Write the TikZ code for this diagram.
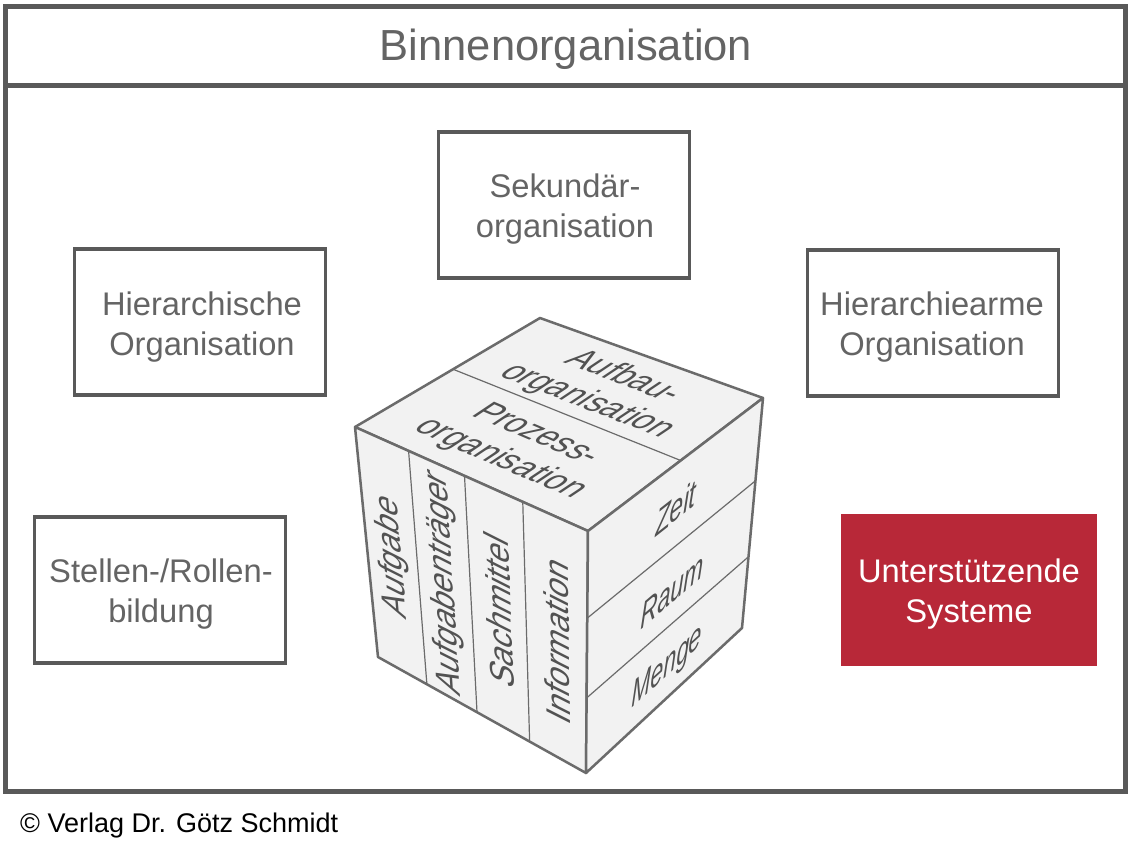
\documentclass[tikz,border=0pt]{standalone}
\usepackage{fontspec}
\setmainfont{Liberation Sans}
\usetikzlibrary{calc}
\definecolor{framec}{HTML}{595959}
\definecolor{txtc}{HTML}{646464}
\definecolor{cubefill}{HTML}{F2F2F2}
\definecolor{cubeline}{HTML}{6B6B6B}
\definecolor{cubetxt}{HTML}{525252}
\definecolor{redbox}{HTML}{B82838}
\begin{document}
\begin{tikzpicture}[x=1pt,y=-1pt,
  topicbox/.style={draw=framec, line width=3.5pt, minimum width=251pt, minimum height=146pt, inner sep=0pt},
  boxtext/.style={text=txtc, align=center, inner sep=0pt, font=\fontsize{32.7}{40}\selectfont},
  cubeedge/.style={draw=cubeline, line width=2.5pt, line join=round, fill=cubefill},
  cubediv/.style={draw=cubeline, line width=1.2pt},
  facetext/.style={transform shape, text=cubetxt, align=center, inner sep=0pt,
    font=\fontsize{32}{37}\selectfont},
  sidetext/.style={transform shape, text=cubetxt, inner sep=0pt,
    font=\fontsize{31}{34}\selectfont\itshape}]
\useasboundingbox (0,0) rectangle (1133,848);
\fill[white] (0,0) rectangle (1133,848);
% frame
\draw[framec, line width=5pt] (5.5,6.5) rectangle (1125.5,791.5);
\draw[framec, line width=5pt] (5.5,85.5) -- (1125.5,85.5);
\node[anchor=base, text=txtc, inner sep=0pt, font=\fontsize{43.5}{50}\selectfont] (title) at (566,61) {Binnenorganisation};
% boxes
\node[topicbox] (sek) at (564,205) {};
\node[boxtext] (sektxt) at (565,209) {Sekundär-\\organisation};
\node[topicbox] (hier) at (200,322) {};
\node[boxtext] (hiertxt) at (202,327) {Hierarchische\\Organisation};
\node[topicbox] (hierarm) at (933,323) {};
\node[boxtext] (hierarmtxt) at (932,327) {Hierarchiearme\\Organisation};
\node[topicbox] (stellen) at (160,590) {};
\node[boxtext] (stellentxt) at (161,594) {Stellen-/Rollen-\\bildung};
\node[fill=redbox, minimum width=256pt, minimum height=152pt, inner sep=0pt] (unter) at (969,590) {};
\node[boxtext, text=white] (untertxt) at (969,594) {Unterstützende\\Systeme};
% cube
\coordinate (TL) at (355,427);
\coordinate (B) at (540,318);
\coordinate (R) at (763,398);
\coordinate (F) at (588,531);
\coordinate (BL) at (378,657);
\coordinate (BF) at (586,773);
\coordinate (BR) at (742,628);
\path[cubeedge] (TL) -- (B) -- (R) -- (F) -- cycle;
\path[cubeedge] (TL) -- (F) -- (BF) -- (BL) -- cycle;
\path[cubeedge] (F) -- (R) -- (BR) -- (BF) -- cycle;
\draw[cubediv] ($(TL)!0.53!(B)$) -- ($(F)!0.53!(R)$);
\draw[cubediv] ($(TL)!0.23!(F)$) -- ($(BL)!0.235!(BF)$);
\draw[cubediv] ($(TL)!0.47!(F)$) -- ($(BL)!0.476!(BF)$);
\draw[cubediv] ($(TL)!0.72!(F)$) -- ($(BL)!0.729!(BF)$);
\draw[cubediv] ($(F)!0.36!(BF)$) -- ($(R)!0.36!(BR)$);
\draw[cubediv] ($(F)!0.69!(BF)$) -- ($(R)!0.69!(BR)$);
% top face texts
\begin{scope}[shift={(605,389)}, cm={0.934,-0.357,0.98,0.655,(0,0)}]
\node[facetext] (aufbau) at (0,0) {Aufbau-\\organisation};
\end{scope}
\begin{scope}[shift={(518,447)}, cm={0.92,-0.394,0.98,0.655,(0,0)}]
\node[facetext] (prozess) at (0,0) {Prozess-\\organisation};
\end{scope}
% left face texts
\begin{scope}[shift={(393,557)}, cm={-0.086,0.996,-1.07,0.54,(0,0)}]
\node[facetext] (aufgabe) at (0,0) {Aufgabe};
\end{scope}
\begin{scope}[shift={(444.5,583)}, cm={-0.064,0.998,-1.07,0.54,(0,0)}]
\node[facetext] (traeger) at (0,0) {Aufgabenträger};
\end{scope}
\begin{scope}[shift={(499,610)}, cm={-0.038,0.999,-1.07,0.54,(0,0)}]
\node[facetext] (sach) at (0,0) {Sachmittel};
\end{scope}
\begin{scope}[shift={(557,640)}, cm={-0.013,1,-1.07,0.54,(0,0)}]
\node[facetext] (info) at (0,0) {Information};
\end{scope}
% right face texts
\begin{scope}[shift={(676,508)}, cm={0.786,0.619,0.056,1.2,(0,0)}]
\node[sidetext] (zeit) at (0,0) {Zeit};
\end{scope}
\begin{scope}[shift={(672,591)}, cm={0.759,0.651,0.056,1.2,(0,0)}]
\node[sidetext] (raum) at (0,0) {Raum};
\end{scope}
\begin{scope}[shift={(667,668)}, cm={0.738,0.675,0.056,1.2,(0,0)}]
\node[sidetext] (menge) at (0,0) {Menge};
\end{scope}
% copyright
\node[anchor=base west, inner sep=0pt, font=\fontsize{27}{30}\selectfont] (copy) at (20,832) {© Verlag Dr. Götz Schmidt};
\end{tikzpicture}
\end{document}
